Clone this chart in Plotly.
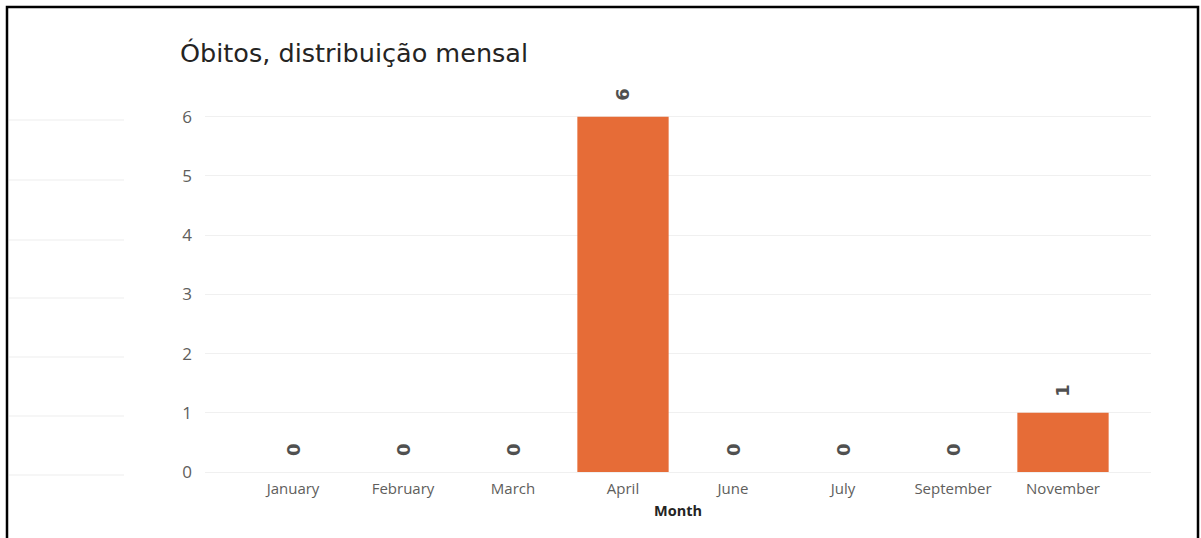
import plotly.graph_objects as go

months = ["January", "February", "March", "April", "June", "July", "September", "November"]
deaths = [0, 0, 0, 6, 0, 0, 0, 1]
y_ticks = [0, 1, 2, 3, 4, 5, 6]

W, H = 1201, 538
ML, MR, MT, MB = 205, 50, 93, 66
PW = W - ML - MR
PH = H - MT - MB

def px_x(p):
    return (p - ML) / PW

def px_y(p):
    return (H - MB - p) / PH

fig = go.Figure()
fig.add_trace(go.Bar(
    x=months, y=deaths, marker=dict(color="#E66C37", line=dict(width=0)),
    width=0.83, hoverinfo="x+y",
))

for m, v in zip(months, deaths):
    fig.add_annotation(x=m, y=v, text=str(v), showarrow=False, textangle=-90,
                       yshift=22, font=dict(family="DejaVu Sans", size=18, color="#505050",
                                            weight="bold"),
                       xref="x", yref="y")

shapes = []
# outer frame of the screenshot
shapes.append(dict(type="rect", xref="paper", yref="paper",
                   x0=px_x(7), x1=px_x(1198), y0=px_y(560), y1=px_y(7),
                   line=dict(color="#000000", width=2.5), fillcolor="rgba(0,0,0,0)", layer="above"))
# faint lines of neighbouring visual at the left
for yy in [120, 180, 240, 298, 357, 416, 475]:
    shapes.append(dict(type="line", xref="paper", yref="paper",
                       x0=px_x(9), x1=px_x(124), y0=px_y(yy), y1=px_y(yy),
                       line=dict(color="#EDEDED", width=1)))

fig.update_layout(
    width=W, height=H,
    margin=dict(l=ML, r=MR, t=MT, b=MB, autoexpand=False),
    paper_bgcolor="white", plot_bgcolor="white",
    showlegend=False,
    title=dict(text="Óbitos, distribuição mensal", x=180 / W, xanchor="left",
               y=1 - 53 / H, yanchor="middle",
               font=dict(family="DejaVu Sans", size=25.5, color="#252423")),
    xaxis=dict(range=[-0.8, 7.8], showgrid=False, zeroline=False, showline=False,
               ticks="", tickfont=dict(family="Open Sans", size=15, color="#605E5C"),
               ticklabelstandoff=6,
               title=dict(text="Month", standoff=8,
                          font=dict(family="Open Sans", size=14.5, color="#252423", weight="bold"))),
    yaxis=dict(range=[0, 6.4], tickvals=y_ticks, showgrid=True, gridcolor="#F0F0F0", gridwidth=1,
               zeroline=True, zerolinecolor="#F0F0F0", zerolinewidth=1, showline=False, ticks="",
               tickfont=dict(family="Open Sans", size=17, color="#605E5C"), ticklabelstandoff=12),
    shapes=shapes,
)

fig.write_html("out.html", config={"displayModeBar": False},
               post_script="document.body.style.margin='0';document.body.style.overflow='hidden';")
